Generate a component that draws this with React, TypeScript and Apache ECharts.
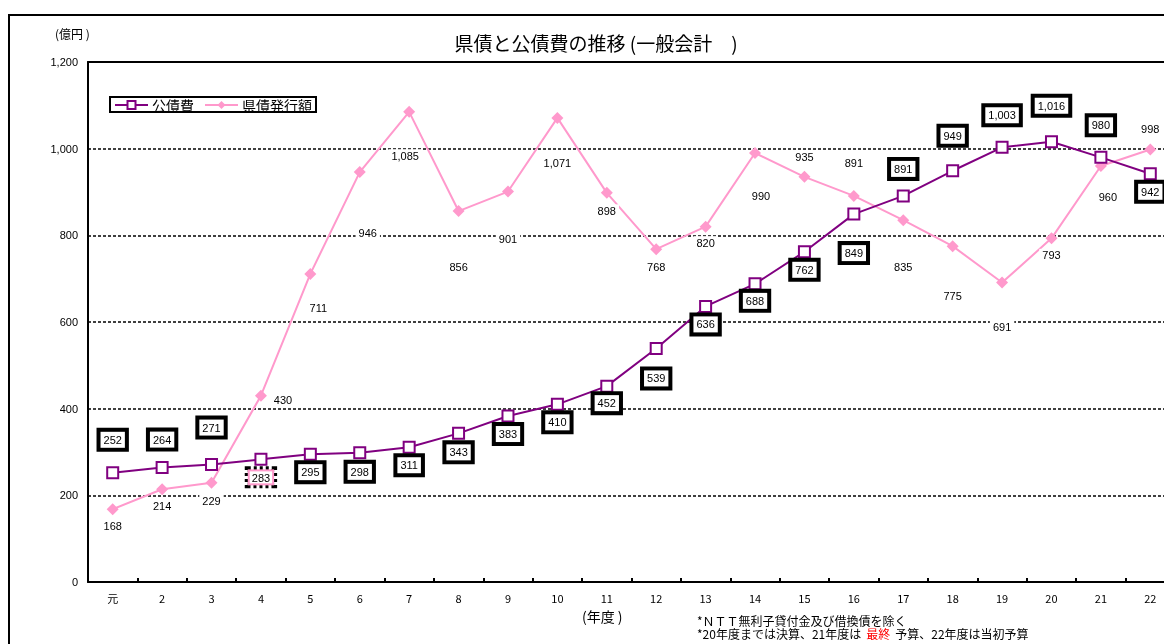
import React, { useEffect, useRef } from "react";
import * as echarts from "echarts";

const years = ["元", "2", "3", "4", "5", "6", "7", "8", "9", "10", "11", "12", "13", "14", "15", "16", "17", "18", "19", "20", "21", "22"];
const kousaihi = [252, 264, 271, 283, 295, 298, 311, 343, 383, 410, 452, 539, 636, 688, 762, 849, 891, 949, 1003, 1016, 980, 942];
const kensai = [168, 214, 229, 430, 711, 946, 1085, 856, 901, 1071, 898, 768, 820, 990, 935, 891, 835, 775, 691, 793, 960, 998];
const yTicks = [0, 200, 400, 600, 800, 1000, 1200];

// label offsets (dx, dy) in pixels relative to each point
const kousaihiLabelOffset: [number, number][] = [
  [0, -33], [0, -28], [0, -37], [0, 18], [0, 18], [0, 19], [0, 18], [0, 19], [0, 18], [0, 18], [0, 17],
  [0, 30], [0, 18], [0, 17], [0, 18], [0, 39], [0, -27], [0, -35], [0, -32], [0, -36], [0, -32], [0, 18],
];
const kensaiLabelOffset: [number, number][] = [
  [0, 17], [0, 17], [0, 18], [22, 4], [8, 34], [8, 61], [-4, 44], [0, 56], [0, 47], [0, 45], [0, 18],
  [0, 18], [0, 16], [6, 43], [0, -20], [0, -33], [0, 47], [0, 50], [0, 44], [0, 17], [7, 31], [0, -21],
];

const PURPLE = "#800080";
const PINK = "#ff99cc";
const FONT = "'Liberation Sans', 'Noto Sans CJK JP', sans-serif";
const JFONT = "'Noto Sans CJK JP', 'Liberation Sans', sans-serif";

const NOTE1 = "*ＮＴＴ無利子貸付金及び借換債を除く";
const NOTE2A = "*20年度までは決算、21年度は";
const NOTE2B = "最終";
const NOTE2C = "予算、22年度は当初予算";

const fmt = (v: number) => v.toString().replace(/\B(?=(\d{3})+(?!\d))/g, ",");

function measure(text: string, font: string): number {
  const c = document.createElement("canvas").getContext("2d");
  if (!c) return text.length * 10;
  c.font = font;
  return c.measureText(text).width;
}

export default function App() {
  const ref = useRef<HTMLDivElement>(null);
  useEffect(() => {
    if (!ref.current) return;
    const chart = echarts.init(ref.current, null, { renderer: "svg" });
    const purpleData = kousaihi.map((v, i) => {
      const special = i === 3;
      return {
        value: v,
        label: {
          show: true,
          position: "inside",
          offset: kousaihiLabelOffset[i],
          formatter: special ? "{w|" + fmt(v) + "}" : fmt(v),
          color: "#000",
          fontSize: 11,
          fontFamily: FONT,
          backgroundColor: special ? PINK : "#fff",
          borderColor: "#000",
          borderWidth: special ? 3 : 4,
          borderType: special ? [3, 3] : "solid",
          padding: special ? [2, 2] : [3, 3, 2, 3],
          rich: special
            ? { w: { backgroundColor: "#fff", padding: [1, 2, 0, 2], fontSize: 11, fontFamily: FONT, color: "#000" } }
            : undefined,
        },
      };
    });
    const pinkData = kensai.map((v, i) => ({
      value: v,
      label: {
        show: true,
        position: "inside",
        offset: kensaiLabelOffset[i],
        formatter: fmt(v),
        color: "#000",
        fontSize: 11,
        fontFamily: FONT,
        backgroundColor: "#fff",
        padding: [1, 3],
      },
    }));
    const noteFont = "12px 'Noto Sans CJK JP', 'Liberation Sans', sans-serif";
    const wA = measure(NOTE2A, noteFont);
    const wB = measure(NOTE2B, noteFont);
    const gap = 5;
    chart.setOption({
      animation: false,
      title: {
        text: "県債と公債費の推移 (一般会計　)",
        left: 583,
        top: 20,
        textAlign: "center",
        textStyle: { fontSize: 19, fontWeight: "normal", color: "#000", fontFamily: JFONT },
      },
      legend: {
        left: 102,
        top: 89,
        orient: "horizontal",
        borderColor: "#000",
        borderWidth: 2,
        padding: [1, 4, 0, 4],
        itemGap: 10,
        itemWidth: 33,
        itemHeight: 10,
        textStyle: { fontSize: 14, color: "#000", fontFamily: JFONT, padding: [0, 0, 0, -1] },
        data: ["公債費", "県債発行額"],
      },
      grid: {
        left: 80,
        top: 54,
        width: 1087,
        height: 520,
        show: false,
      },
      xAxis: [
        {
          type: "category",
          data: years,
          axisLine: { show: true, lineStyle: { color: "#000", width: 2 } },
          axisTick: { show: true, inside: true, length: 4, lineStyle: { color: "#000", width: 2 } },
          axisLabel: { color: "#000", fontSize: 11, fontFamily: JFONT, margin: 10 },
        },
        {
          type: "category",
          data: years,
          position: "top",
          axisLine: { show: true, lineStyle: { color: "#000", width: 2 } },
          axisTick: { show: false },
          axisLabel: { show: false },
        },
      ],
      yAxis: {
        type: "value",
        min: yTicks[0],
        max: yTicks[yTicks.length - 1],
        interval: 200,
        axisLine: { show: true, lineStyle: { color: "#000", width: 2 } },
        axisLabel: { color: "#000", fontSize: 11, fontFamily: FONT, margin: 10, formatter: (v: number) => fmt(v) },
        splitLine: { lineStyle: { color: "#000", type: [3, 2], width: 1.5 } },
      },
      graphic: [
        {
          type: "rect",
          shape: { x: 1, y: 7, width: 1300, height: 800 },
          style: { fill: "none", stroke: "#000", lineWidth: 2 },
        },
        {
          type: "text",
          left: 47,
          top: 19,
          style: { text: "(億円 )", fill: "#000", font: "12px " + JFONT },
        },
        {
          type: "text",
          left: 574,
          top: 601,
          style: { text: "(年度 )", fill: "#000", font: "14px " + JFONT },
        },
        {
          type: "text",
          left: 689,
          top: 606,
          style: { text: NOTE1, fill: "#000", font: noteFont },
        },
        {
          type: "text",
          left: 689,
          top: 619,
          style: { text: NOTE2A, fill: "#000", font: noteFont },
        },
        {
          type: "text",
          left: 689 + wA + gap,
          top: 619,
          style: { text: NOTE2B, fill: "#ff0000", font: noteFont },
        },
        {
          type: "text",
          left: 689 + wA + wB + 2 * gap,
          top: 619,
          style: { text: NOTE2C, fill: "#000", font: noteFont },
        },
      ],
      series: [
        {
          name: "県債発行額",
          type: "line",
          data: pinkData,
          symbol: "diamond",
          symbolSize: 12,
          itemStyle: { color: PINK },
          lineStyle: { color: PINK, width: 2 },
          z: 2,
        },
        {
          name: "公債費",
          type: "line",
          data: purpleData,
          symbol: "rect",
          symbolSize: 11,
          itemStyle: { color: "#fff", borderColor: PURPLE, borderWidth: 2 },
          lineStyle: { color: PURPLE, width: 2 },
          z: 3,
        },
      ],
    });
    return () => chart.dispose();
  }, []);
  return (
    <div style={{ position: "fixed", left: 0, top: 0, width: 1164, height: 644, overflow: "hidden" }}>
      <div ref={ref} style={{ position: "absolute", left: 8, top: 8, width: 1200, height: 636 }} />
    </div>
  );
}
